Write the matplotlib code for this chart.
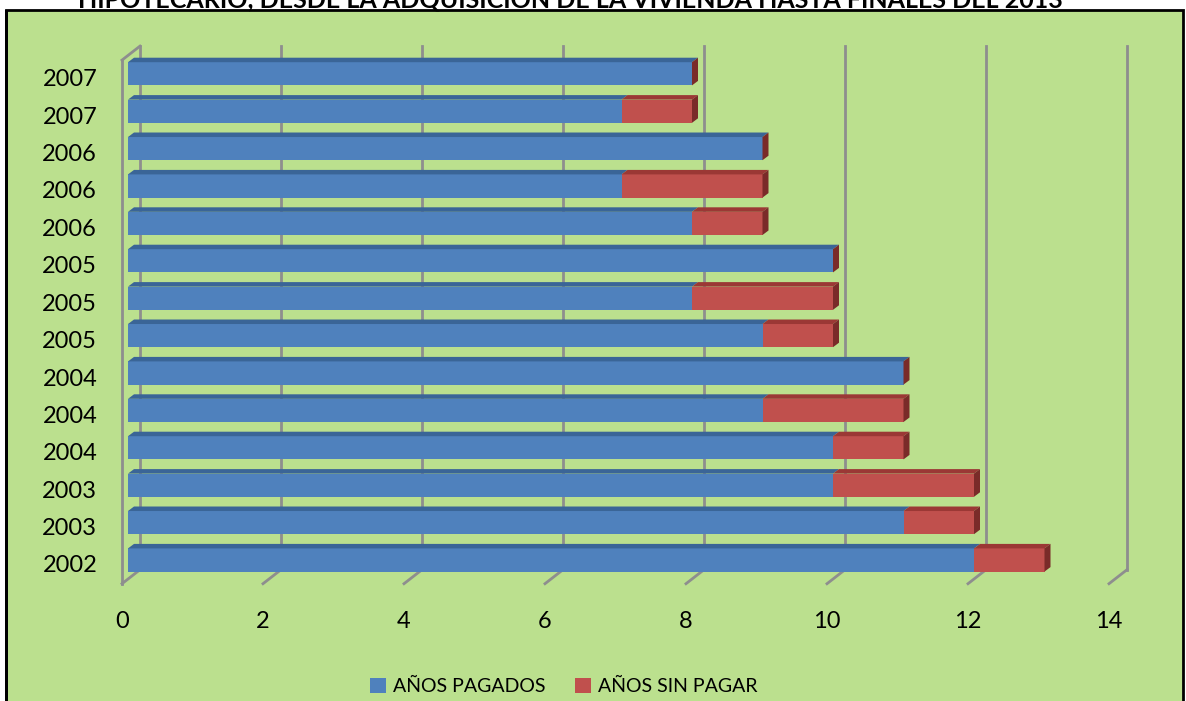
import matplotlib.pyplot as plt
from matplotlib.patches import Polygon, Rectangle, Patch
from matplotlib.transforms import ScaledTranslation

plt.rcParams["font.family"] = ["Lato", "DejaVu Sans"]

# one row per household, bottom to top
years = ["2002", "2003", "2003", "2004", "2004", "2004", "2005",
         "2005", "2005", "2006", "2006", "2006", "2007", "2007"]
paid = [12, 11, 10, 10, 9, 11, 9, 8, 10, 8, 7, 9, 7, 8]
unpaid = [1, 1, 2, 1, 2, 0, 1, 2, 0, 1, 2, 0, 1, 0]
x_ticks = [0, 2, 4, 6, 8, 10, 12, 14]

title = "HIPOTECARIO, DESDE LA ADQUISICIÓN DE LA VIVIENDA HASTA FINALES DEL 2013"

BG = "#BBE08E"
BLUE, BLUE_TOP = "#4F81BD", "#3A6597"
RED, RED_TOP, RED_SIDE = "#C0504D", "#9B3835", "#7A2B29"
GRID = "#8E8E8E"

W, H = 1186, 701
fig = plt.figure(figsize=(W / 100, H / 100), dpi=100)
fig.patch.set_facecolor("white")

# green chart area with black frame
fig.patches.append(Rectangle((6 / W, -0.01), 1177 / W, 1 - 10 / H + 0.01,
                             transform=fig.transFigure, facecolor=BG,
                             edgecolor="black", linewidth=2, zorder=-2))
fig.patches.append(Rectangle((5 / W, -0.01), 3 / W, 1 - 10 / H + 0.01,
                             transform=fig.transFigure, facecolor="black",
                             edgecolor="none", zorder=-1))

fig.text(570 / W, 1 - 8 / H, title, ha="center", va="baseline",
         fontsize=18, fontweight="bold", color="black")

# axes box in pixels: left 100, right 1150, top 30, bottom 600
ax = fig.add_axes([100 / W, 1 - 600 / H, 1050 / W, 570 / H])
ax.set_zorder(1)
ax.set_facecolor("none")
px_x, px_y = 70.5, 37.4
ax.set_xlim((100 - 128) / px_x, (1150 - 128) / px_x)
ax.set_ylim((560 - 600) / px_y, (560 - 30) / px_y)
for s in ax.spines.values():
    s.set_visible(False)

# depth offsets (data units) for the pseudo-3D look
front_dx, front_dy = -6 / px_x, -5 / px_y
bar_dx, bar_dy = 6 / px_x, 4.5 / px_y
wall_dx, wall_dy = 12 / px_x, 9 / px_y
lo, hi = -0.5, len(years) - 0.5

# left wall and back gridlines
ax.plot([front_dx, front_dx], [lo + front_dy, hi + front_dy], color=GRID, lw=2, zorder=1)
ax.plot([front_dx, wall_dx], [hi + front_dy, hi + wall_dy], color=GRID, lw=2, zorder=1)
for t in x_ticks:
    ax.plot([t + wall_dx, t + wall_dx], [lo + wall_dy, hi + wall_dy], color=GRID, lw=2, zorder=1)
    ax.plot([t + front_dx, t + wall_dx], [lo + front_dy, lo + wall_dy], color=GRID, lw=2, zorder=1)

h = 0.62
ypos = list(range(len(years)))
ax.barh(ypos, paid, height=h, color=BLUE, zorder=3)
ax.barh(ypos, unpaid, left=paid, height=h, color=RED, zorder=3)

for y, p, u in zip(ypos, paid, unpaid):
    top = y + h / 2
    bot = y - h / 2
    end = p + u
    ax.add_patch(Polygon([(0, top), (p, top), (p + bar_dx, top + bar_dy), (bar_dx, top + bar_dy)],
                         closed=True, facecolor=BLUE_TOP, edgecolor="none", zorder=3))
    if u > 0:
        ax.add_patch(Polygon([(p, top), (end, top), (end + bar_dx, top + bar_dy), (p + bar_dx, top + bar_dy)],
                             closed=True, facecolor=RED_TOP, edgecolor="none", zorder=3))
    ax.add_patch(Polygon([(end, bot), (end, top), (end + bar_dx, top + bar_dy), (end + bar_dx, bot + bar_dy)],
                         closed=True, facecolor=RED_SIDE, edgecolor="none", zorder=3))

ax.set_xticks(x_ticks)
ax.set_xticklabels([str(t) for t in x_ticks], fontsize=17)
ax.set_yticks(ypos)
ax.set_yticklabels(years, fontsize=17)
ax.tick_params(axis="both", length=0)
ax.tick_params(axis="x", pad=8)
ax.tick_params(axis="y", pad=2)

shift_x = ScaledTranslation(-0.06, 0, fig.dpi_scale_trans)
for lab in ax.get_xticklabels():
    lab.set_transform(lab.get_transform() + shift_x)
shift_y = ScaledTranslation(0, -0.04, fig.dpi_scale_trans)
for lab in ax.get_yticklabels():
    lab.set_transform(lab.get_transform() + shift_y)

handles = [Patch(facecolor=BLUE, label="AÑOS PAGADOS"),
           Patch(facecolor=RED, label="AÑOS SIN PAGAR")]
fig.legend(handles=handles, loc="lower center", bbox_to_anchor=(564 / W, -0.017),
           ncol=2, frameon=False, fontsize=14, handlelength=0.8, handleheight=0.8,
           handletextpad=0.4, columnspacing=1.5)

fig.savefig("out.png", dpi=100, facecolor=fig.get_facecolor())
